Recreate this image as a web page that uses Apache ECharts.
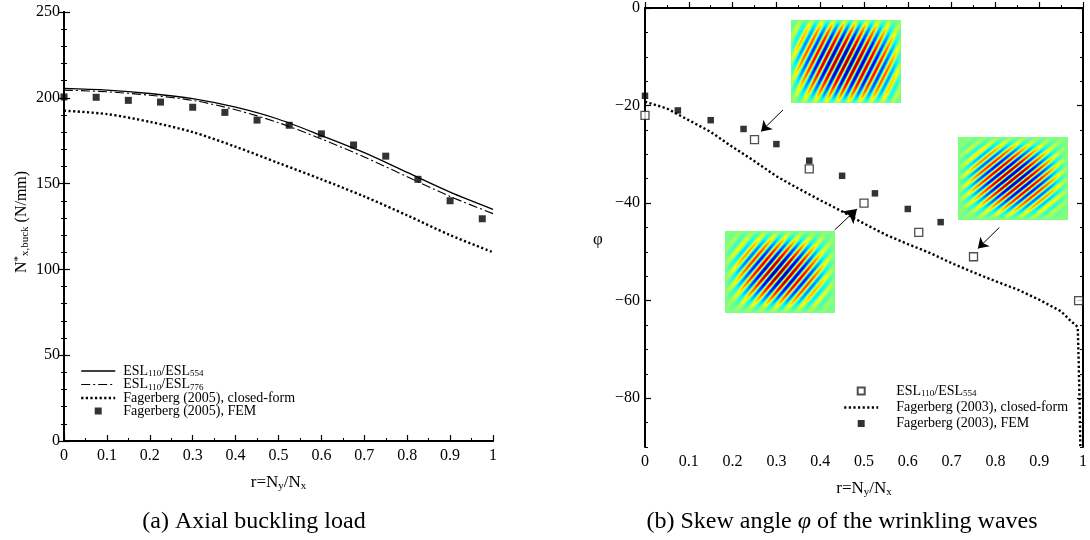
<!DOCTYPE html>
<html>
<head>
<meta charset="utf-8">
<script src="https://cdn.jsdelivr.net/npm/echarts@6/dist/echarts.min.js"></script>
<style>
  html, body { margin: 0; background: #fff; }
  #main { width: 1090px; height: 540px; }
</style>
</head>
<body>
<div id="main"></div>
<script>
// (a) axial buckling load, N*x,buck (N/mm) against r = Ny/Nx
const rA = [0, 0.1, 0.2, 0.3, 0.4, 0.5, 0.6, 0.7, 0.8, 0.9, 1];
const esl554A = [205.5, 204.5, 202.5, 199.5, 194.5, 187.5, 178, 168, 156.5, 145, 135];
const esl776A = [204.5, 203.5, 201.5, 198.5, 193, 185.5, 176, 165.5, 154, 142.5, 132.5];
const closedA = [192.5, 190.5, 186, 180, 171.5, 162, 152.5, 142.5, 131.5, 120, 110];
const rFemA = [0, 0.075, 0.15, 0.225, 0.3, 0.375, 0.45, 0.525, 0.6, 0.675, 0.75, 0.825, 0.9, 0.975];
const femA = [200.5, 200.3, 198.5, 197.5, 194.5, 191.5, 187, 184, 179, 172.5, 166, 152.5, 140, 129.5];

// (b) skew angle phi (deg) against r
const rClosedB = [0, 0.05, 0.1, 0.15, 0.2, 0.25, 0.3, 0.35, 0.4, 0.45, 0.5, 0.55, 0.6, 0.65,
                  0.7, 0.75, 0.8, 0.85, 0.9, 0.95, 0.97, 0.988, 0.99, 0.992, 0.994];
const closedB = [-19.2, -20.6, -23, -25.4, -28.5, -31.4, -34.5, -37, -39.4, -41.7, -44.2, -46.5, -48.4, -50.2,
                 -52.3, -54.2, -56, -57.7, -59.8, -62.2, -64, -65.4, -72, -80, -90];
const rEslB = [0, 0.25, 0.375, 0.5, 0.625, 0.75, 0.99];
const eslB = [-22, -27, -33, -40, -46, -51, -60];
const rFemB = [0, 0.075, 0.15, 0.225, 0.3, 0.375, 0.45, 0.525, 0.6, 0.675];
const femB = [-18, -21, -23, -24.8, -27.9, -31.3, -34.4, -38, -41.2, -43.9];

// tick labels
const xTicks = [0, 0.1, 0.2, 0.3, 0.4, 0.5, 0.6, 0.7, 0.8, 0.9, 1];
const yTicksA = [0, 50, 100, 150, 200, 250];
const yTicksB = [-80, -60, -40, -20, 0];

// arrows to the mode-shape insets: [tail r, tail phi, head r, head phi]
const arrowsB = [[0.315, -20.9, 0.265, -25.3], [0.433, -45.5, 0.484, -41.2], [0.809, -45.0, 0.76, -49.3]];

const zip = (xs, ys) => xs.map((x, i) => [x, ys[i]]);
const FONT = 'Liberation Serif';
const SQUARE = 'path://M0,0H10V10H0Z';

// wrinkling mode pictures, jet colour map
function jet(t) {
  const c = v => Math.round(255 * Math.max(0, Math.min(1, v)));
  return [c(1.5 - Math.abs(4 * t - 3)), c(1.5 - Math.abs(4 * t - 2)), c(1.5 - Math.abs(4 * t - 1))];
}
function waveImage(w, h, phiDeg, lambda, p) {
  const cv = document.createElement('canvas');
  cv.width = w; cv.height = h;
  const ctx = cv.getContext('2d');
  const img = ctx.createImageData(w, h);
  const phi = phiDeg * Math.PI / 180, k = 2 * Math.PI / lambda;
  for (let j = 0; j < h; j++) {
    for (let i = 0; i < w; i++) {
      const u = (i + 0.5) / w, v = (j + 0.5) / h;
      const env = Math.pow(Math.sin(Math.PI * u) * Math.sin(Math.PI * v), p);
      const X = i - w / 2, Y = -(j - h / 2);
      const val = env * Math.cos(k * (X * Math.cos(phi) + Y * Math.sin(phi)));
      const rgb = jet(0.5 + 0.5 * val);
      const o = 4 * (j * w + i);
      img.data[o] = rgb[0]; img.data[o + 1] = rgb[1]; img.data[o + 2] = rgb[2]; img.data[o + 3] = 255;
    }
  }
  ctx.putImageData(img, 0, 0);
  return cv;
}

const minus = v => String(v).replace('-', '\u2212');
const xFmt = v => (v === 0 ? '0' : v === 1 ? '1' : v.toFixed(1));

const legendNames = {
  'a:solid': '{t|ESL}{s|110}{t|/ESL}{s|554}',
  'a:dashdot': '{t|ESL}{s|110}{t|/ESL}{s|776}',
  'a:closed': 'Fagerberg (2005), closed-form',
  'a:fem': 'Fagerberg (2005), FEM',
  'b:esl': '{t|ESL}{s|110}{t|/ESL}{s|554}',
  'b:closed': 'Fagerberg (2003), closed-form',
  'b:fem': 'Fagerberg (2003), FEM'
};
function legendText(padLeft) {
  return {
    fontFamily: FONT, fontSize: 14, color: '#000', lineHeight: 12, padding: [0, 0, 0, padLeft],
    rich: {
      t: { fontFamily: FONT, fontSize: 14, color: '#000', lineHeight: 12 },
      s: { fontFamily: FONT, fontSize: 9, color: '#000', padding: [6, 0, 0, 0] }
    }
  };
}
const noSymbol = { opacity: 0 };

function xAxisPair(grid) {
  return [{
    gridIndex: grid, type: 'value', min: 0, max: 1, interval: 0.1, position: 'bottom',
    axisLine: { lineStyle: { color: '#000', width: 2 } },
    axisTick: { inside: true, length: 6, lineStyle: { color: '#000', width: 1.2 } },
    minorTick: { show: true, splitNumber: 2, length: 3, lineStyle: { color: '#000', width: 1 } },
    axisLabel: { color: '#000', fontFamily: FONT, fontSize: 16, margin: 7, formatter: xFmt },
    splitLine: { show: false },
    name: '{t|r=N}{s|y}{t|/N}{s|x}', nameLocation: 'middle', nameGap: 33,
    nameTextStyle: {
      rich: {
        t: { fontFamily: FONT, fontSize: 17, color: '#000' },
        s: { fontFamily: FONT, fontSize: 11, color: '#000', padding: [7, 0, 0, 0] }
      }
    }
  }, {
    gridIndex: grid, type: 'value', min: 0, max: 1, position: 'top',
    axisLine: { lineStyle: { color: '#000', width: 1.2 } },
    axisTick: { show: false }, axisLabel: { show: false }, splitLine: { show: false }
  }];
}

const chart = echarts.init(document.getElementById('main'), null, { renderer: 'canvas' });

const option = {
  animation: false,
  backgroundColor: '#fff',
  grid: [
    { left: 64, right: 597, top: 12, bottom: 99 },
    { left: 645, right: 4, top: 6, bottom: 93 }
  ],
  xAxis: [...xAxisPair(0), ...xAxisPair(1)],
  yAxis: [
    {
      gridIndex: 0, type: 'value', min: 0, max: 250, interval: 50, position: 'left',
      axisLine: { lineStyle: { color: '#000', width: 2 } },
      axisTick: { inside: true, length: 6, lineStyle: { color: '#000', width: 1.2 } },
      minorTick: { show: true, splitNumber: 5, length: 3, lineStyle: { color: '#000', width: 1 } },
      axisLabel: { color: '#000', fontFamily: FONT, fontSize: 16, margin: 4, customValues: yTicksA },
      splitLine: { show: false }
    },
    {
      gridIndex: 0, type: 'value', min: 0, max: 250, interval: 50, position: 'right',
      axisLine: { show: true, lineStyle: { color: '#000', width: 2 } },
      axisTick: { inside: true, length: 6, lineStyle: { color: '#000', width: 1.2 } },
      minorTick: { show: true, splitNumber: 5, length: 3, lineStyle: { color: '#000', width: 1 } },
      axisLabel: { show: false }, splitLine: { show: false }
    },
    {
      gridIndex: 1, type: 'value', min: -90, max: 0, position: 'left',
      axisLine: { lineStyle: { color: '#000', width: 2 } },
      axisTick: { inside: true, length: 6, customValues: yTicksB, lineStyle: { color: '#000', width: 1.2 } },
      axisLabel: { color: '#000', fontFamily: FONT, fontSize: 16, margin: 5, customValues: yTicksB, formatter: minus },
      splitLine: { show: false }
    },
    {
      gridIndex: 1, type: 'value', min: -90, max: 0, interval: 5, position: 'left',
      axisLine: { show: false },
      axisTick: { inside: true, length: 3, lineStyle: { color: '#000', width: 1 } },
      axisLabel: { show: false }, splitLine: { show: false }
    },
    {
      gridIndex: 1, type: 'value', min: -90, max: 0, position: 'right',
      axisLine: { show: true, lineStyle: { color: '#000', width: 2 } },
      axisTick: { inside: true, length: 6, customValues: yTicksB, lineStyle: { color: '#000', width: 1.2 } },
      axisLabel: { show: false }, splitLine: { show: false }
    },
    {
      gridIndex: 1, type: 'value', min: -90, max: 0, interval: 5, position: 'right',
      axisLine: { show: false },
      axisTick: { inside: true, length: 3, lineStyle: { color: '#000', width: 1 } },
      axisLabel: { show: false }, splitLine: { show: false }
    }
  ],
  legend: [
    {
      left: 80, top: 364, padding: 0, orient: 'vertical', itemWidth: 34, itemHeight: 7, itemGap: -1,
      selectedMode: false,
      data: [
        { name: 'a:solid', itemStyle: noSymbol },
        { name: 'a:dashdot', itemStyle: noSymbol },
        { name: 'a:closed', itemStyle: noSymbol },
        { name: 'a:fem', icon: SQUARE }
      ],
      formatter: n => legendNames[n], textStyle: legendText(3), lineStyle: { width: 'inherit' }
    },
    {
      left: 843, top: 384, padding: 0, orient: 'vertical', itemWidth: 34, itemHeight: 7, itemGap: 2,
      selectedMode: false,
      data: [
        { name: 'b:esl', icon: SQUARE },
        { name: 'b:closed', itemStyle: noSymbol },
        { name: 'b:fem', icon: SQUARE }
      ],
      formatter: n => legendNames[n], textStyle: legendText(13), lineStyle: { width: 'inherit' }
    }
  ],
  series: [
    {
      name: 'a:solid', type: 'line', xAxisIndex: 0, yAxisIndex: 0, data: zip(rA, esl554A),
      smooth: 0.3, symbol: 'none', itemStyle: { color: '#000' }, lineStyle: { color: '#000', width: 1.3 }
    },
    {
      name: 'a:dashdot', type: 'line', xAxisIndex: 0, yAxisIndex: 0, data: zip(rA, esl776A),
      smooth: 0.3, symbol: 'none', itemStyle: { color: '#000' },
      lineStyle: { color: '#000', width: 1.1, type: [9, 3, 2, 3] }
    },
    {
      name: 'a:closed', type: 'line', xAxisIndex: 0, yAxisIndex: 0, data: zip(rA, closedA),
      smooth: 0.3, symbol: 'none', itemStyle: { color: '#000' },
      lineStyle: { color: '#000', width: 2.4, type: [2.2, 2.4] }
    },
    {
      name: 'a:fem', type: 'scatter', xAxisIndex: 0, yAxisIndex: 0, data: zip(rFemA, femA),
      symbol: 'rect', symbolSize: 7, itemStyle: { color: '#000' }
    },
    {
      name: 'b:closed', type: 'line', xAxisIndex: 2, yAxisIndex: 2, data: zip(rClosedB, closedB),
      symbol: 'none', itemStyle: { color: '#000' },
      lineStyle: { color: '#000', width: 2.4, type: [2.2, 2.4] }
    },
    {
      name: 'b:esl', type: 'scatter', xAxisIndex: 2, yAxisIndex: 2, data: zip(rEslB, eslB),
      symbol: 'rect', symbolSize: 8, itemStyle: { color: '#fff', borderColor: '#222', borderWidth: 1.3 },
      markLine: {
        silent: true, symbol: ['none', 'arrow'], symbolSize: 10,
        label: { show: false }, lineStyle: { color: '#000', width: 1, type: 'solid' },
        emphasis: { disabled: true },
        data: arrowsB.map((a, i) => [
          { coord: [a[0], a[1]] },
          { coord: [a[2], a[3]], symbolSize: i === 1 ? 13 : 10 }
        ])
      }
    },
    {
      name: 'b:fem', type: 'scatter', xAxisIndex: 2, yAxisIndex: 2, data: zip(rFemB, femB),
      symbol: 'rect', symbolSize: 6.5, itemStyle: { color: '#000' }
    }
  ],
  graphic: [
    { type: 'image', x: 791, y: 20, style: { image: waveImage(110, 83, -27, 10, 0.6), width: 110, height: 83 } },
    { type: 'image', x: 958, y: 137, style: { image: waveImage(110, 83, -51, 8.5, 1), width: 110, height: 83 } },
    { type: 'image', x: 725, y: 231, style: { image: waveImage(110, 82, -40, 9.5, 1), width: 110, height: 82 } },
    {
      type: 'text', x: 22, y: 222, rotation: Math.PI / 2,
      style: {
        text: '{n|N}{sup|*}{sub|x,buck}{n| (N/mm)}', align: 'center', verticalAlign: 'middle',
        rich: {
          n: { fontFamily: FONT, fontSize: 16, fill: '#000' },
          sup: { fontFamily: FONT, fontSize: 11, fill: '#000', padding: [0, 0, 8, 0] },
          sub: { fontFamily: FONT, fontSize: 11, fill: '#000', padding: [7, 0, 0, 0] }
        }
      }
    },
    {
      type: 'text', x: 598, y: 240,
      style: { text: 'φ', fontFamily: FONT, fontSize: 17, fill: '#000', align: 'center', verticalAlign: 'middle' }
    },
    {
      type: 'text', x: 254, y: 522,
      style: { text: '(a) Axial buckling load', fontFamily: FONT, fontSize: 24, fill: '#000', align: 'center', verticalAlign: 'middle' }
    },
    {
      type: 'text', x: 842, y: 522,
      style: {
        text: '{t|(b) Skew angle }{i|φ}{t| of the wrinkling waves}', align: 'center', verticalAlign: 'middle',
        rich: {
          t: { fontFamily: FONT, fontSize: 24, fill: '#000' },
          i: { fontFamily: FONT, fontSize: 24, fontStyle: 'italic', fill: '#000' }
        }
      }
    }
  ]
};

chart.setOption(option);
</script>
</body>
</html>
